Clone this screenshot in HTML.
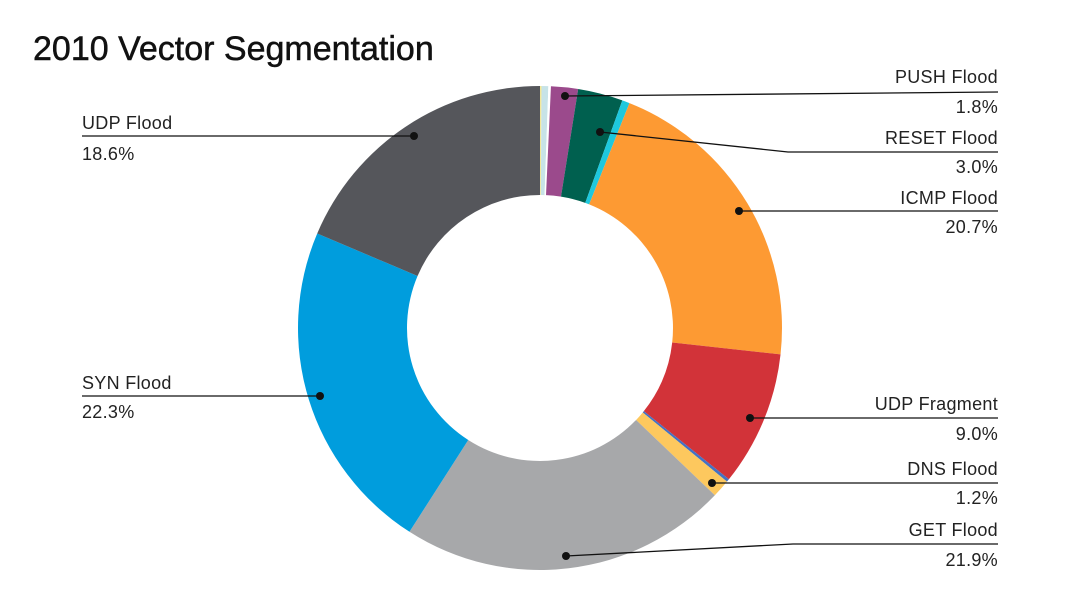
<!DOCTYPE html>
<html><head><meta charset="utf-8"><style>
body{margin:0;background:#fff;}
svg{display:block;font-family:"Liberation Sans",sans-serif;}
</style></head><body>
<svg id="s" width="1080" height="608" viewBox="0 0 1080 608">
<rect width="1080" height="608" fill="#fff"/>
<text x="33" y="60" font-size="34" fill="#111" stroke="#111" stroke-width="0.5">2010 Vector Segmentation</text>
<g id="pie"></g>
<g stroke="#111" stroke-width="1.3" fill="none">
<polyline points="414,136 82,136"/>
<polyline points="320,396 82,396"/>
<polyline points="565,96 998,92"/>
<polyline points="600,132 788,152 998,152"/>
<polyline points="739,211 998,211"/>
<polyline points="750,418 998,418"/>
<polyline points="712,483 998,483"/>
<polyline points="566,556 793,544 998,544"/>
</g>
<g fill="#111">
<circle cx="414" cy="136" r="4"/><circle cx="320" cy="396" r="4"/>
<circle cx="565" cy="96" r="4"/><circle cx="600" cy="132" r="4"/>
<circle cx="739" cy="211" r="4"/><circle cx="750" cy="418" r="4"/>
<circle cx="712" cy="483" r="4"/><circle cx="566" cy="556" r="4"/>
</g>
<g font-size="18" fill="#222" letter-spacing="0.3">
<text x="82" y="129">UDP Flood</text><text x="82" y="160">18.6%</text>
<text x="82" y="389">SYN Flood</text><text x="82" y="418">22.3%</text>
<g text-anchor="end">
<text x="998" y="83">PUSH Flood</text><text x="998" y="113">1.8%</text>
<text x="998" y="144">RESET Flood</text><text x="998" y="173">3.0%</text>
<text x="998" y="204">ICMP Flood</text><text x="998" y="233">20.7%</text>
<text x="998" y="410">UDP Fragment</text><text x="998" y="440">9.0%</text>
<text x="998" y="475">DNS Flood</text><text x="998" y="504">1.2%</text>
<text x="998" y="536">GET Flood</text><text x="998" y="566">21.9%</text>
</g></g>
</svg>
<script>
var d=[[0.1,"#f3e89a"],[0.45,"#c7e3e7"],[0.17,"#ffffff"],[1.8,"#9b4a8c"],[3.0,"#00604f"],[0.5,"#1ec8dd"],[20.7,"#fd9a33"],[9.0,"#d23339"],[0.2,"#4472c4"],[1.2,"#fdc85e"],[21.9,"#a7a8aa"],[22.3,"#009ddd"],[18.6,"#55565b"]];
var tot=0;d.forEach(function(x){tot+=x[0];});
var cx=540,cy=328,R=242,r=133,a=0,h="";
function p(rr,ang){var t=ang/tot*2*Math.PI;return (cx+rr*Math.sin(t)).toFixed(2)+","+(cy-rr*Math.cos(t)).toFixed(2);}
d.forEach(function(x){var b=a+x[0];var l=x[0]/tot>0.5?1:0;
h+='<path fill="'+x[1]+'" d="M'+p(R,a)+' A'+R+','+R+' 0 '+l+' 1 '+p(R,b)+' L'+p(r,b)+' A'+r+','+r+' 0 '+l+' 0 '+p(r,a)+' Z"/>';a=b;});
document.getElementById("pie").innerHTML=h;
</script>
</body></html>
